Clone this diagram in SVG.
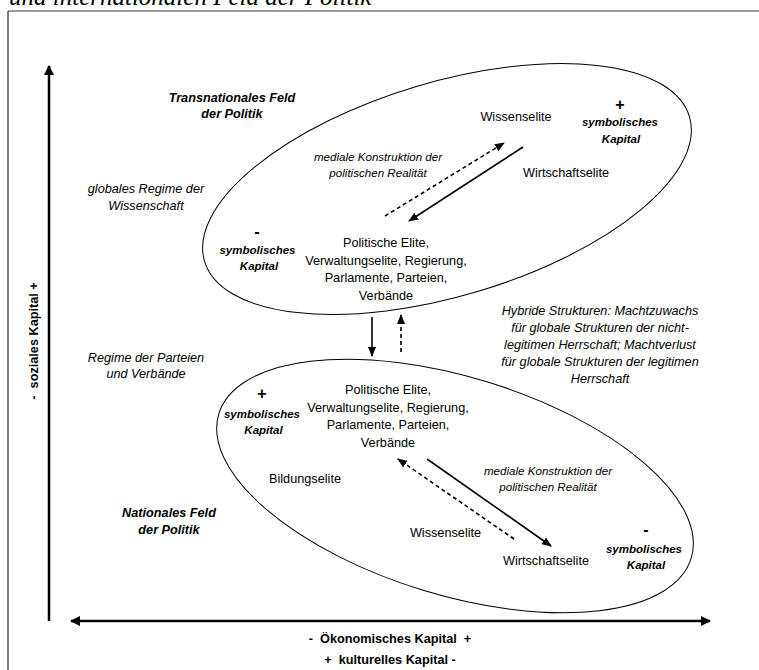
<svg xmlns="http://www.w3.org/2000/svg" width="759" height="670" viewBox="0 0 759 670">
<style>
text{font-family:"Liberation Sans",Arial,sans-serif;fill:#000;}
.r{font-size:12.7px;text-anchor:middle;}
.i{font-size:12.7px;font-style:italic;text-anchor:middle;}
.m{font-size:11.6px;font-style:italic;text-anchor:middle;}
.bi{font-size:12.7px;font-style:italic;font-weight:bold;text-anchor:middle;}
.s{font-size:11.5px;font-style:italic;font-weight:bold;text-anchor:middle;}
.pm{font-size:16px;font-weight:bold;text-anchor:middle;}
.ax{font-size:12.7px;font-weight:bold;text-anchor:middle;}
.title{font-family:"Liberation Serif","Times New Roman",serif;font-style:italic;font-size:25px;}
.ell{fill:none;stroke:#000;stroke-width:1;}
.sol{stroke:#000;stroke-width:1.6;fill:none;}
.dash{stroke:#000;stroke-width:1.6;fill:none;stroke-dasharray:4 3;}
.axis{stroke:#000;stroke-width:2.5;fill:none;}
</style>
<defs>
<marker id="ah" markerUnits="userSpaceOnUse" markerWidth="10" markerHeight="8" refX="9" refY="4" orient="auto-start-reverse">
<path d="M0,0 L10,4 L0,8 z" fill="#000"/>
</marker>
<marker id="axh" markerUnits="userSpaceOnUse" markerWidth="10" markerHeight="10" refX="9" refY="5" orient="auto-start-reverse">
<path d="M0,0 L10,5 L0,10 z" fill="#000"/>
</marker>
</defs>

<g id="frame">
<line x1="8" y1="11" x2="759" y2="11" stroke="#7a7a7a" stroke-width="1.6"/>
<line x1="8" y1="11" x2="8" y2="670" stroke="#000" stroke-width="1"/>
<text class="title" x="9" y="5">und internationalen Feld der Politik</text>
</g>

<g id="axes">
<line class="axis" x1="49" y1="621" x2="49" y2="66" marker-end="url(#axh)"/>
<line class="axis" x1="71" y1="621" x2="710" y2="621" marker-start="url(#axh)" marker-end="url(#axh)"/>
<text class="ax" transform="translate(38,341) rotate(-90)" x="0" y="0" xml:space="preserve">-  soziales Kapital +</text>
<text class="ax" x="390" y="643" xml:space="preserve">-  Ökonomisches Kapital  +</text>
<text class="ax" x="390" y="664" xml:space="preserve">+  kulturelles Kapital -</text>
</g>

<g id="transnational-field">
<ellipse class="ell" cx="447" cy="189" rx="253" ry="107" transform="rotate(-16.6 447 189)"/>
<text class="bi" x="232" y="102">Transnationales Feld</text>
<text class="bi" x="232" y="118">der Politik</text>
</g>
<g id="globales-regime">
<text class="i" x="146" y="193">globales Regime der</text>
<text class="i" x="146" y="210">Wissenschaft</text>
</g>
<g id="t-wissenselite"><text class="r" x="516" y="121">Wissenselite</text></g>
<g id="t-wirtschaftselite"><text class="r" x="566" y="177">Wirtschaftselite</text></g>
<g id="t-sym-plus">
<text class="pm" x="620" y="110">+</text>
<text class="s" x="620" y="126">symbolisches</text>
<text class="s" x="621" y="143">Kapital</text>
</g>
<g id="t-sym-minus">
<text class="pm" x="257" y="237">-</text>
<text class="s" x="257.5" y="254">symbolisches</text>
<text class="s" x="259" y="270">Kapital</text>
</g>
<g id="t-medial">
<text class="m" x="378" y="161">mediale Konstruktion der</text>
<text class="m" x="378" y="177">politischen Realität</text>
</g>
<g id="t-politik">
<text class="r" x="386" y="247">Politische Elite,</text>
<text class="r" x="386" y="264.5">Verwaltungselite, Regierung,</text>
<text class="r" x="386" y="282">Parlamente, Parteien,</text>
<text class="r" x="386" y="299.5">Verbände</text>
</g>

<g id="hybrid">
<text class="i" x="600" y="315">Hybride Strukturen: Machtzuwachs</text>
<text class="i" x="600" y="332">für globale Strukturen der nicht-</text>
<text class="i" x="600" y="349">legitimen Herrschaft; Machtverlust</text>
<text class="i" x="600" y="366">für globale Strukturen der legitimen</text>
<text class="i" x="600" y="383">Herrschaft</text>
</g>
<g id="regime-parteien">
<text class="i" x="146" y="362">Regime der Parteien</text>
<text class="i" x="146" y="378">und Verbände</text>
</g>

<g id="national-field">
<ellipse class="ell" cx="455" cy="486" rx="247" ry="109" transform="rotate(17 455 486)"/>
<text class="bi" x="169" y="517">Nationales Feld</text>
<text class="bi" x="169" y="534">der Politik</text>
</g>
<g id="n-sym-plus">
<text class="pm" x="262" y="399">+</text>
<text class="s" x="262" y="418">symbolisches</text>
<text class="s" x="263.5" y="434">Kapital</text>
</g>
<g id="n-politik">
<text class="r" x="388" y="394">Politische Elite,</text>
<text class="r" x="388" y="411.5">Verwaltungselite, Regierung,</text>
<text class="r" x="388" y="429">Parlamente, Parteien,</text>
<text class="r" x="388" y="446.5">Verbände</text>
</g>
<g id="n-bildungselite"><text class="r" x="305" y="483">Bildungselite</text></g>
<g id="n-medial">
<text class="m" x="548" y="475">mediale Konstruktion der</text>
<text class="m" x="548" y="491">politischen Realität</text>
</g>
<g id="n-wissenselite"><text class="r" x="445.5" y="537">Wissenselite</text></g>
<g id="n-wirtschaftselite"><text class="r" x="546" y="565">Wirtschaftselite</text></g>
<g id="n-sym-minus">
<text class="pm" x="646" y="535">-</text>
<text class="s" x="644" y="553">symbolisches</text>
<text class="s" x="646" y="569">Kapital</text>
</g>

<g id="connectors">
<line class="dash" x1="385" y1="216" x2="504" y2="143" marker-end="url(#ah)"/>
<line class="sol" x1="523" y1="147" x2="409" y2="221" marker-end="url(#ah)"/>
<line class="sol" x1="372" y1="317" x2="372" y2="356" marker-end="url(#ah)"/>
<line class="dash" x1="401" y1="352" x2="401" y2="315" marker-end="url(#ah)"/>
<line class="sol" x1="427" y1="459" x2="551" y2="546" marker-end="url(#ah)"/>
<line class="dash" x1="514" y1="539" x2="398" y2="459" marker-end="url(#ah)"/>
</g>
</svg>
